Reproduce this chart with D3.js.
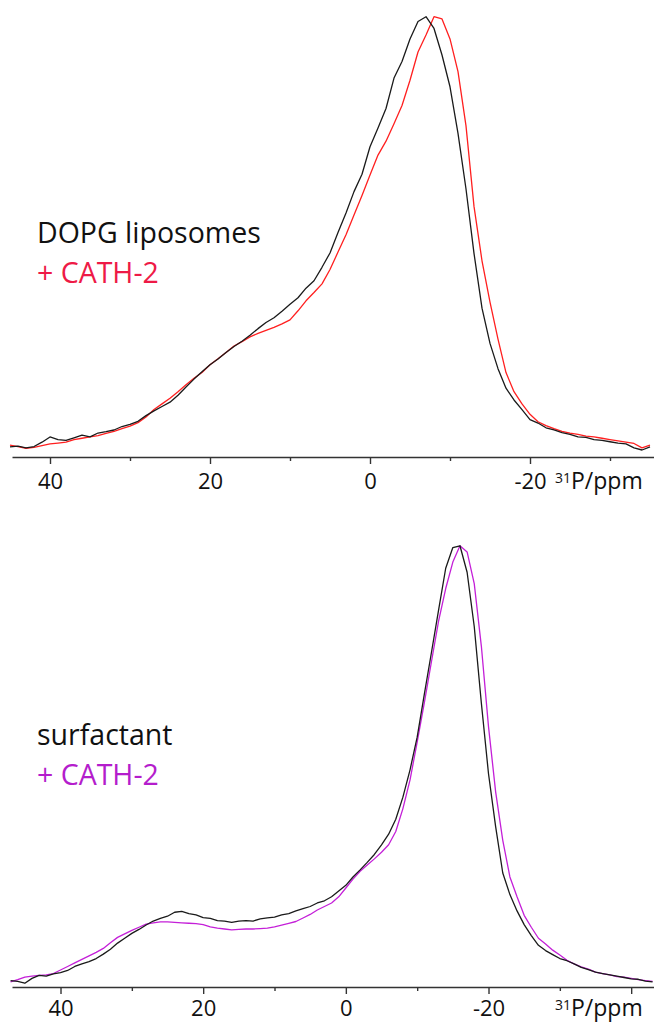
<!DOCTYPE html>
<html>
<head>
<meta charset="utf-8">
<script src="https://cdn.jsdelivr.net/npm/d3@7"></script>
<style>
  html, body { margin: 0; padding: 0; background: #fff; }
  svg { display: block; }
</style>
</head>
<body>
<svg id="chart" width="654" height="1027"></svg>
<script>
// ---------- DATA ----------
// Top panel: DOPG liposomes (black) and + CATH-2 (red); chemical shift in ppm, intensity in % of max
const topPpm = [45,44,43,42,41,40,39,38,37,36,35,34,33,32,31,30,29,28,27,26,25,24,23,22,21,20,19,18,17,16,15,14,13,12,11,10,9,8,7,6,5,4,3,2,1,0,-1,-2,-3,-4,-5,-6,-7,-8,-9,-10,-11,-12,-13,-14,-15,-16,-17,-18,-19,-20,-21,-22,-23,-24,-25,-26,-27,-28,-29,-30,-31,-32,-33,-34,-35];
const topBlack = [0.7,0.9,0.5,0.8,1.8,3.0,2.4,2.2,2.8,3.4,3.0,3.9,4.2,4.6,5.4,5.9,6.6,7.9,9.0,10.0,11.0,12.6,14.5,16.3,18.0,19.6,20.9,22.4,23.8,25.0,26.4,27.9,29.3,30.4,31.9,33.5,35.0,37.2,38.9,42.0,45.3,50.0,54.5,59.4,63.4,69.7,74.0,78.5,85.5,89.3,94.5,98.5,99.6,96.9,90.8,83.5,72.8,60.0,45.2,32.6,24.5,18.7,14.2,11.5,9.3,7.0,6.2,5.1,4.6,4.0,3.6,3.0,2.9,2.4,2.2,1.9,1.6,1.4,0.5,0.0,0.7];
const topRed = [1.1,0.8,0.4,0.6,1.0,1.4,1.6,1.8,2.4,2.7,3.0,3.3,3.8,4.3,4.9,5.5,6.3,7.6,9.3,10.6,11.9,13.4,15.0,16.5,17.8,19.6,21.0,22.4,23.9,24.9,26.0,26.8,27.5,28.2,29.0,29.9,32.0,34.3,36.2,38.2,41.5,45.5,49.5,54.0,58.5,63.2,67.8,71.0,75.0,79.2,85.0,91.5,95.4,99.6,99.1,94.5,87.0,74.5,56.0,43.5,34.0,25.5,17.8,13.4,10.6,8.2,6.5,5.6,4.9,4.3,3.9,3.6,3.2,3.0,2.7,2.4,2.1,1.8,1.5,0.5,1.1];

// Bottom panel: surfactant (black) and + CATH-2 (purple)
const botPpm = [47,46,45,44,43,42,41,40,39,38,37,36,35,34,33,32,31,30,29,28,27,26,25,24,23,22,21,20,19,18,17,16,15,14,13,12,11,10,9,8,7,6,5,4,3,2,1,0,-1,-2,-3,-4,-5,-6,-7,-8,-9,-10,-11,-12,-13,-14,-15,-16,-17,-18,-19,-20,-21,-22,-23,-24,-25,-26,-27,-28,-29,-30,-31,-32,-33,-34,-35,-36,-37,-38,-39,-40,-41,-42,-43];
const botBlack = [1.0,0.8,0.4,1.5,2.2,2.0,2.5,2.8,3.3,4.2,4.8,5.3,6.0,7.0,8.1,9.5,10.6,11.7,12.6,13.6,14.5,15.1,15.6,16.5,16.7,16.2,15.9,15.3,15.1,14.6,14.5,14.2,14.5,14.6,14.5,15.0,15.2,15.4,15.9,16.2,16.8,17.3,17.8,18.6,19.1,20.0,21.3,22.6,24.5,26.1,27.8,29.6,31.8,34.2,37.6,42.6,48.8,56.2,65.9,75.4,85.0,94.5,99.2,99.6,93.6,81.3,63.9,47.9,35.9,25.4,20.5,16.8,13.7,11.2,9.0,7.8,6.9,6.0,5.5,4.8,4.0,3.5,2.9,2.6,2.3,2.0,1.7,1.4,1.3,0.9,0.7];
const botPurple = [0.7,1.2,1.8,2.0,2.2,2.3,2.6,3.4,4.2,5.0,5.8,6.6,7.4,8.3,9.6,10.8,11.6,12.4,13.1,13.8,14.1,14.3,14.3,14.2,14.1,14.0,13.9,13.7,13.2,12.9,12.7,12.5,12.6,12.7,12.7,12.8,12.9,13.2,13.6,14.0,14.4,15.2,16.0,17.0,17.8,18.6,20.0,22.0,24.0,25.8,27.2,28.6,30.1,31.8,34.8,40.0,46.5,55.1,64.0,73.3,82.5,89.9,95.9,99.6,98.2,91.0,76.8,58.6,43.8,32.8,24.5,20.0,15.8,13.1,10.6,9.3,7.9,6.8,5.6,4.8,4.1,3.6,2.9,2.6,2.3,1.9,1.8,1.5,1.2,1.0,0.8];

// Axis ticks
const topMajor = [40, 20, 0, -20];
const topMinor = [30, 10, -10, -30];
const topLabels = ["40", "20", "0", "-20"];
const botMajor = [40, 20, 0, -20, -40];
const botMinor = [30, 10, -10, -30];
const botLabels = ["40", "20", "0", "-20", ""];

const legendTop = ["DOPG liposomes", "+ CATH-2"];
const legendBot = ["surfactant", "+ CATH-2"];

// ---------- DRAW ----------
const svg = d3.select("#chart");
svg.append("rect").attr("width", 654).attr("height", 1027).attr("fill", "#fff");

const FONT = "'Open Sans', 'Noto Sans', sans-serif";
const TICK_FS = 22;

function panel(cfg) {
  const x = d3.scaleLinear().domain(cfg.xDomain).range([12, 654]);
  const y = d3.scaleLinear().domain([0, 100]).range([cfg.yBase, cfg.yTop]);
  const g = svg.append("g");

  const line = d3.line().x(d => x(d[0])).y(d => y(d[1])).curve(d3.curveLinear);
  cfg.series.forEach(s => {
    g.append("path")
      .datum(cfg.ppm.map((p, i) => [p, s.values[i]]))
      .attr("fill", "none")
      .attr("stroke", s.color)
      .attr("stroke-width", 1.3)
      .attr("stroke-linejoin", "round")
      .attr("d", line);
  });

  // minor ticks
  const minor = g.append("g").attr("transform", `translate(0,${cfg.axisY})`)
    .call(d3.axisBottom(x).tickValues(cfg.minor).tickSize(4).tickFormat(""));
  minor.select(".domain").remove();
  minor.selectAll("line").attr("stroke", "#333").attr("stroke-width", 1.4);

  // major ticks
  const labels = cfg.labels;
  const ax = g.append("g").attr("transform", `translate(0,${cfg.axisY})`)
    .call(d3.axisBottom(x).tickValues(cfg.major).tickSize(7).tickSizeOuter(0)
      .tickPadding(cfg.pad).tickFormat((d, i) => labels[i]));
  ax.select(".domain").attr("stroke", "#333").attr("stroke-width", 1.5);
  ax.selectAll("line").attr("stroke", "#333").attr("stroke-width", 1.4);
  ax.selectAll("text").attr("fill", "#111").style("font-family", FONT).style("font-size", TICK_FS + "px");

  // unit label
  const t = g.append("text")
    .attr("x", 555).attr("y", cfg.axisY + 7 + cfg.pad + 0.71 * TICK_FS)
    .attr("fill", "#111").style("font-family", FONT).style("font-size", "23px");
  t.append("tspan").text("31").style("font-size", "14px").attr("dy", "-6");
  t.append("tspan").text("P/ppm").attr("dy", "6");

  // legend
  cfg.legend.forEach((txt, i) => {
    g.append("text")
      .attr("x", 37).attr("y", cfg.legendY + i * 40)
      .attr("fill", cfg.legendColors[i])
      .style("font-family", FONT).style("font-size", "28.5px")
      .text(txt);
  });
}

panel({
  xDomain: [44.75, -35.5], yBase: 450, yTop: 15, axisY: 457, pad: 9,
  ppm: topPpm,
  series: [{ values: topRed, color: "#ff1f1f" }, { values: topBlack, color: "#1a1a1a" }],
  major: topMajor, minor: topMinor, labels: topLabels,
  legend: legendTop, legendColors: ["#111", "#ee1a46"], legendY: 243
});

panel({
  xDomain: [46.8, -43.2], yBase: 985, yTop: 544, axisY: 987, pad: 6,
  ppm: botPpm,
  series: [{ values: botPurple, color: "#c41fd8" }, { values: botBlack, color: "#1a1a1a" }],
  major: botMajor, minor: botMinor, labels: botLabels,
  legend: legendBot, legendColors: ["#111", "#b41dcc"], legendY: 745
});
</script>
</body>
</html>
